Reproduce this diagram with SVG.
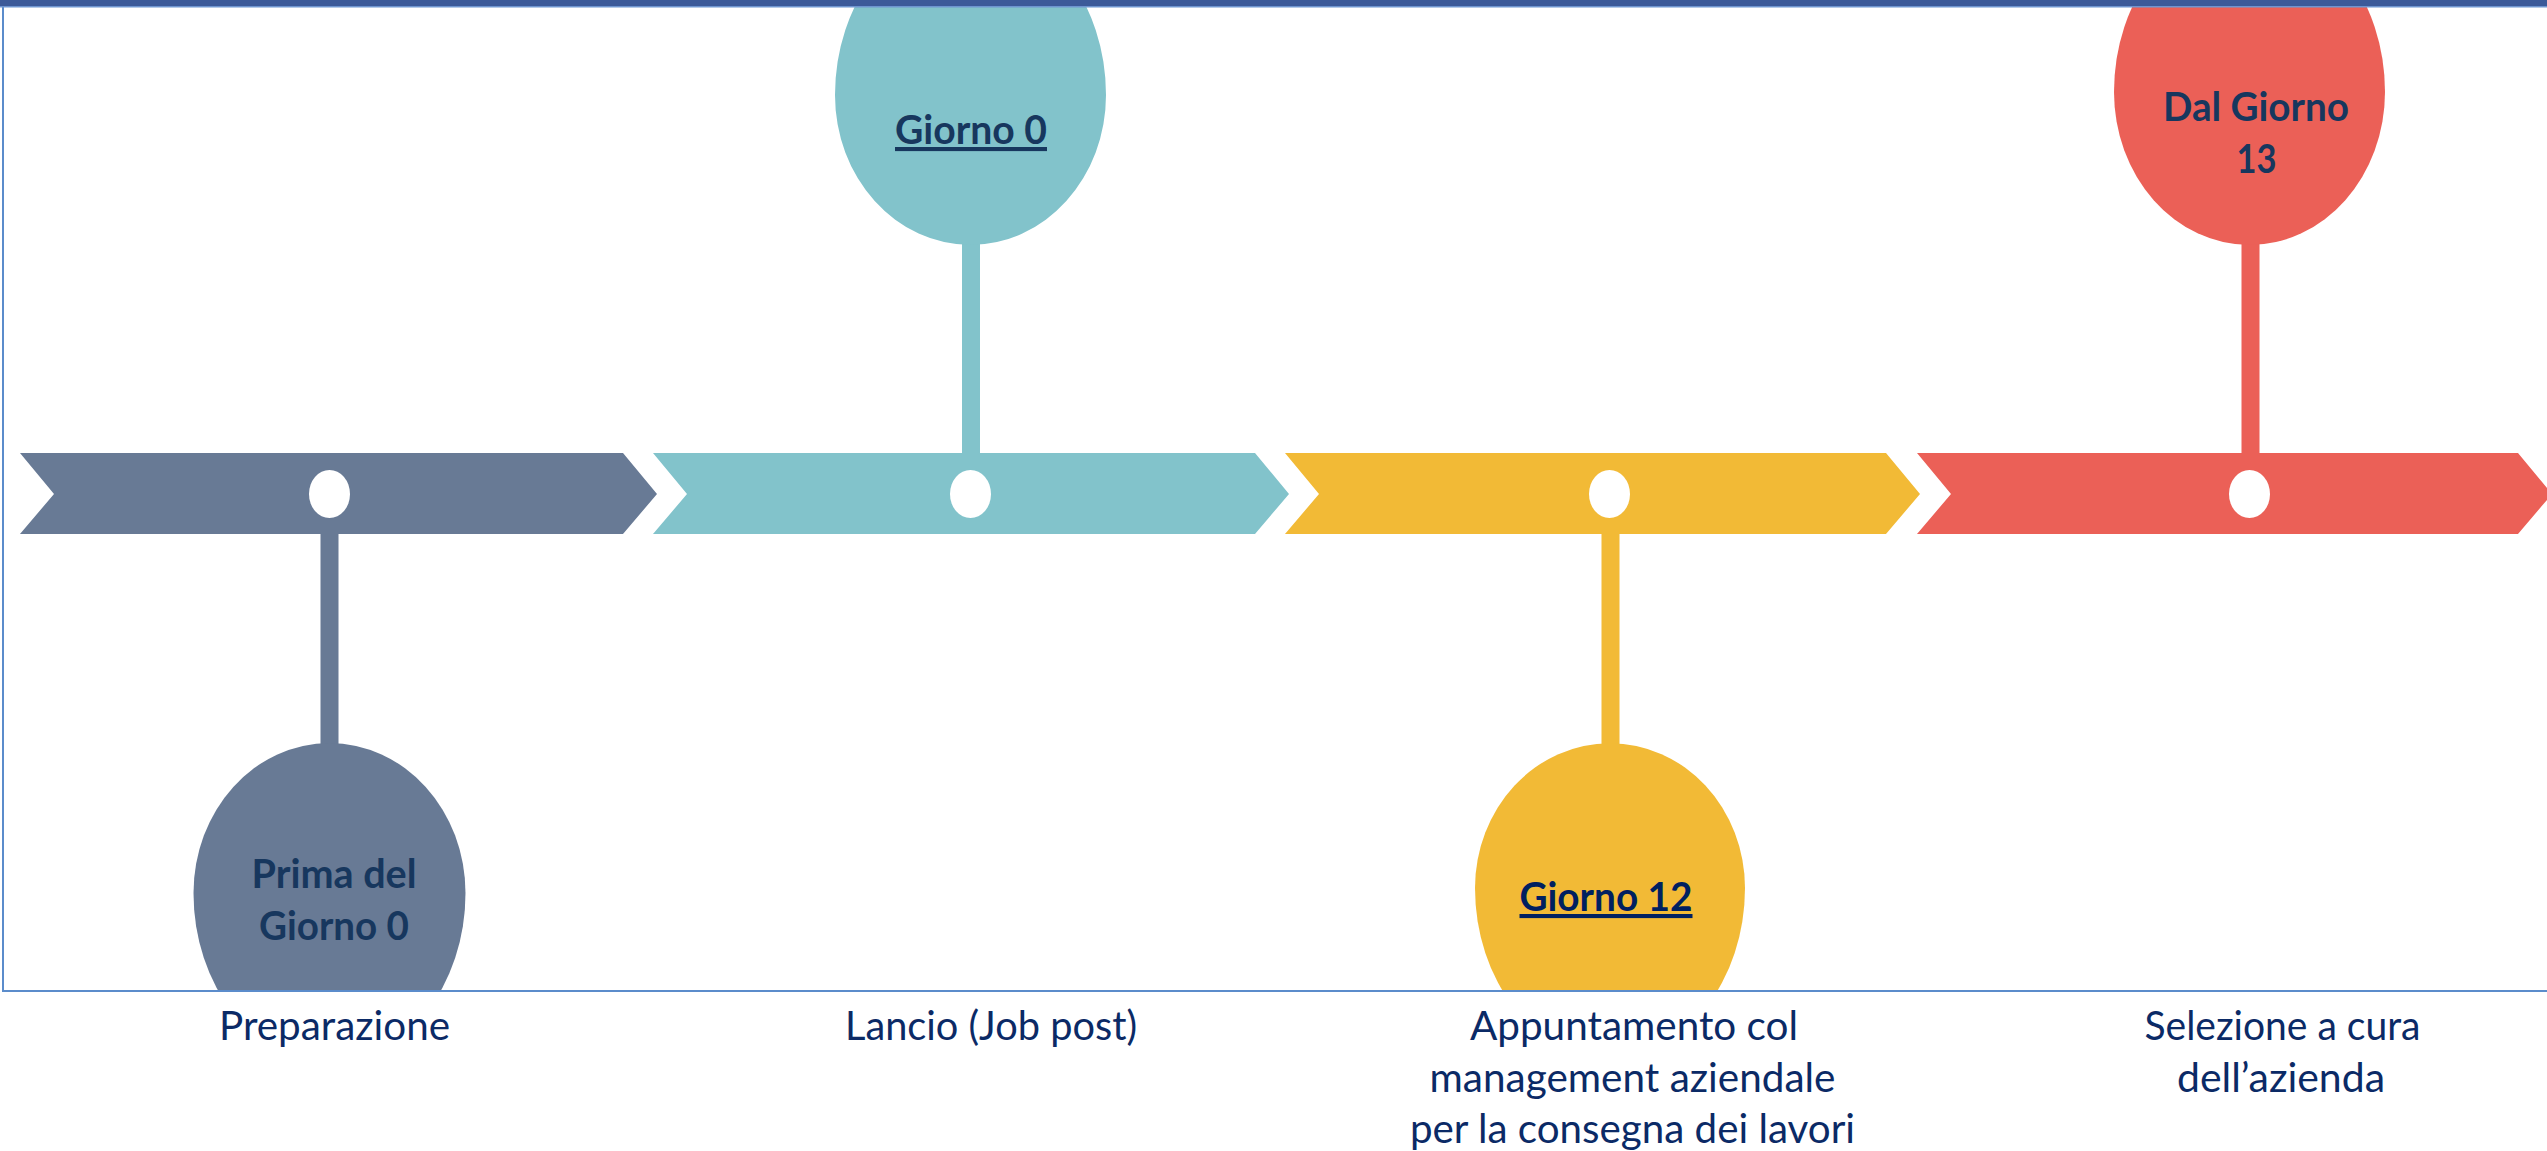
<svg xmlns="http://www.w3.org/2000/svg" width="2547" height="1151" viewBox="0 0 2547 1151">
  <style>
    .bt { font-family: Lato, "Liberation Sans", sans-serif; font-weight: bold; font-size: 41px; fill: #17375E; text-anchor: middle; }
    .u { text-decoration: underline; }
    .lb { font-family: Lato, "Liberation Sans", sans-serif; font-size: 41px; fill: #0B2A66; text-anchor: middle; }
    .hole { fill: #FFFFFF; }
    .slate { fill: #687A95; }
    .teal { fill: #82C3CB; }
    .yellow { fill: #F2BA36; }
    .red { fill: #EB6057; }
  </style>
  <defs>
    <clipPath id="frameClip">
      <rect x="0" y="7" width="2547" height="984"/>
    </clipPath>
  </defs>
  <rect width="2547" height="1151" fill="#FFFFFF"/>

  <!-- connectors (stems) -->
  <g id="connectors">
    <rect class="slate" x="320.5" y="530" width="18" height="216"/>
    <rect class="teal" x="962" y="242" width="18" height="215"/>
    <rect class="yellow" x="1601.5" y="530" width="18" height="216"/>
    <rect class="red" x="2241.5" y="242" width="18" height="215"/>
  </g>

  <g id="stage-1">
    <polygon class="slate" points="20,453 623,453 657,494 623,534 20,534 54,494"/>
    <ellipse class="hole" cx="329.5" cy="494" rx="20.5" ry="24"/>
    <g clip-path="url(#frameClip)">
      <path class="slate" d="M193.5,893 A136,150 0 0 1 465.5,893 A136,170 0 0 1 193.5,893 Z"/>
    </g>
    <text class="bt" x="334" y="888" textLength="165" lengthAdjust="spacingAndGlyphs">Prima del</text>
    <text class="bt" x="334" y="940" textLength="150" lengthAdjust="spacingAndGlyphs">Giorno 0</text>
    <text class="lb" x="334.5" y="1040" textLength="231" lengthAdjust="spacingAndGlyphs">Preparazione</text>
  </g>

  <g id="stage-2">
    <polygon class="teal" points="653,453 1255,453 1289,494 1255,534 653,534 687,494"/>
    <ellipse class="hole" cx="970.5" cy="494" rx="20.5" ry="24"/>
    <g clip-path="url(#frameClip)">
      <path class="teal" d="M835,95 A135.5,170 0 0 1 1106,95 A135.5,150 0 0 1 835,95 Z"/>
    </g>
    <text class="bt u" x="971" y="144" textLength="152" lengthAdjust="spacingAndGlyphs">Giorno 0</text>
    <text class="lb" x="991" y="1040" textLength="292" lengthAdjust="spacingAndGlyphs">Lancio (Job post)</text>
  </g>

  <g id="stage-3">
    <polygon class="yellow" points="1285,453 1886,453 1920,494 1886,534 1285,534 1319,494"/>
    <ellipse class="hole" cx="1609.5" cy="494" rx="20.5" ry="24"/>
    <g clip-path="url(#frameClip)">
      <path class="yellow" d="M1475,888 A135,145 0 0 1 1745,888 A135,170 0 0 1 1475,888 Z"/>
    </g>
    <text class="bt u" x="1606" y="911" textLength="173" lengthAdjust="spacingAndGlyphs" style="fill:#002060">Giorno 12</text>
    <text class="lb" x="1634" y="1040" textLength="328" lengthAdjust="spacingAndGlyphs">Appuntamento col</text>
    <text class="lb" x="1632.5" y="1092" textLength="406" lengthAdjust="spacingAndGlyphs">management aziendale</text>
    <text class="lb" x="1632.5" y="1143" textLength="445" lengthAdjust="spacingAndGlyphs">per la consegna dei lavori</text>
  </g>

  <g id="stage-4">
    <polygon class="red" points="1917,453 2518,453 2552,494 2518,534 1917,534 1951,494"/>
    <ellipse class="hole" cx="2249.5" cy="494" rx="20.5" ry="24"/>
    <g clip-path="url(#frameClip)">
      <path class="red" d="M2114,92 A135.5,170 0 0 1 2385,92 A135.5,153 0 0 1 2114,92 Z"/>
    </g>
    <text class="bt" x="2256" y="121" textLength="186" lengthAdjust="spacingAndGlyphs">Dal Giorno</text>
    <text class="bt" x="2256.5" y="173" textLength="40" lengthAdjust="spacingAndGlyphs">13</text>
    <text class="lb" x="2282.5" y="1040" textLength="276" lengthAdjust="spacingAndGlyphs">Selezione a cura</text>
    <text class="lb" x="2281" y="1092" textLength="208" lengthAdjust="spacingAndGlyphs">dell’azienda</text>
  </g>

  <!-- frame -->
  <g id="frame">
    <path d="M3,7 V991 H2547" fill="none" stroke="#5B8CCB" stroke-width="2"/>
    <rect x="0" y="0" width="2547" height="6" fill="#3C5A99"/>
    <rect x="0" y="6" width="2547" height="1.5" fill="#6E95D0"/>
  </g>
</svg>
